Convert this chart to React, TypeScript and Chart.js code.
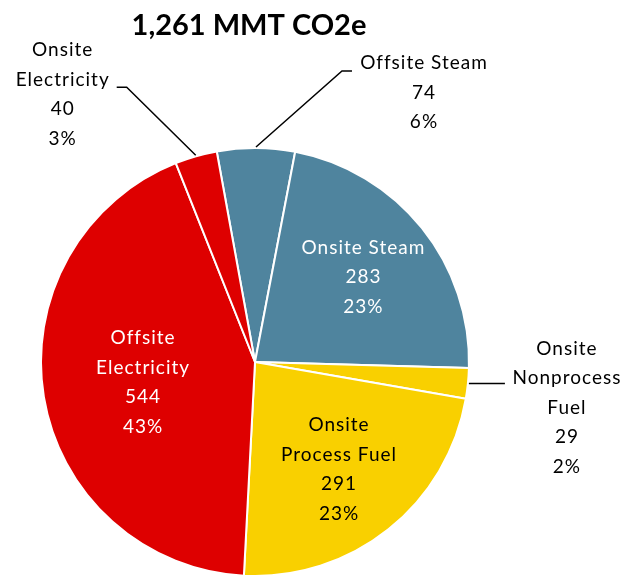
import React, { useEffect, useRef } from "react";
import { Chart, registerables } from "chart.js";

Chart.register(...registerables);

const titleText = "1,261 MMT CO2e";
const categories = [
  "Offsite Steam",
  "Onsite Steam",
  "Onsite Nonprocess Fuel",
  "Onsite Process Fuel",
  "Offsite Electricity",
  "Onsite Electricity",
];
const values = [74, 283, 29, 291, 544, 40];
const percentLabels = ["6%", "23%", "2%", "23%", "43%", "3%"];
const nameLines = [
  ["Offsite Steam"],
  ["Onsite Steam"],
  ["Onsite", "Nonprocess", "Fuel"],
  ["Onsite", "Process Fuel"],
  ["Offsite", "Electricity"],
  ["Onsite", "Electricity"],
];
const colors = ["#4F849E", "#4F849E", "#F9D000", "#F9D000", "#DE0000", "#DE0000"];

const FONT = "Lato, 'Open Sans', sans-serif";
const LINE_H = 29.5;

type Inside = { kind: "in"; f: number; color: string };
type Outside = { kind: "out"; v: [number, number]; h: number; tdx: number; tdy: number; color: string };
const placement: (Inside | Outside)[] = [
  { kind: "out", v: [86, -76], h: 10, tdx: 72, tdy: -8, color: "#000" },
  { kind: "in", f: 0.65, color: "#fff" },
  { kind: "out", v: [0, 0], h: 36, tdx: 62, tdy: -35, color: "#000" },
  { kind: "in", f: 0.63, color: "#000" },
  { kind: "in", f: 0.53, color: "#fff" },
  { kind: "out", v: [-69, -68], h: -10, tdx: -54, tdy: -37, color: "#000" },
];

const labelPlugin = {
  id: "pieLabels",
  afterDatasetsDraw(chart: any) {
    const ctx = chart.ctx;
    const meta = chart.getDatasetMeta(0);
    ctx.save();
    ctx.fillStyle = "#000";
    ctx.font = `bold 29px ${FONT}`;
    ctx.textAlign = "center";
    ctx.textBaseline = "middle";
    ctx.fillText(titleText, 249, 26);

    ctx.font = `19px ${FONT}`;
    try {
      (ctx as any).letterSpacing = "1px";
    } catch (e) {}
    meta.data.forEach((arc: any, i: number) => {
      const { x, y, startAngle, endAngle, outerRadius } = arc.getProps(
        ["x", "y", "startAngle", "endAngle", "outerRadius"],
        true
      );
      const mid = (startAngle + endAngle) / 2;
      const lines = [...nameLines[i], String(values[i]), percentLabels[i]];
      const p = placement[i];
      ctx.fillStyle = p.color;
      ctx.textAlign = "center";
      ctx.textBaseline = "middle";
      if (p.kind === "in") {
        const cx = x + Math.cos(mid) * outerRadius * p.f;
        const cy = y + Math.sin(mid) * outerRadius * p.f + 2;
        const top = cy - ((lines.length - 1) * LINE_H) / 2;
        lines.forEach((t, k) => ctx.fillText(t, cx, top + k * LINE_H));
      } else {
        const x0 = x + Math.cos(mid) * (outerRadius + 1);
        const y0 = y + Math.sin(mid) * (outerRadius + 1);
        const x1 = x0 + p.v[0];
        const y1 = y0 + p.v[1];
        const x2 = x1 + p.h;
        ctx.strokeStyle = "#000";
        ctx.lineWidth = 1.5;
        ctx.beginPath();
        ctx.moveTo(x0, y0);
        ctx.lineTo(x1, y1);
        ctx.lineTo(x2, y1);
        ctx.stroke();
        const cx = x2 + p.tdx;
        const top = y1 + p.tdy;
        lines.forEach((t, k) => ctx.fillText(t, cx, top + k * LINE_H));
      }
    });
    ctx.restore();
  },
};

export default function App() {
  const ref = useRef<HTMLCanvasElement | null>(null);
  useEffect(() => {
    if (!ref.current) return;
    const chart = new Chart(ref.current, {
      type: "pie",
      data: {
        labels: categories,
        datasets: [
          {
            data: values,
            backgroundColor: colors,
            borderColor: "#ffffff",
            borderWidth: 2,
          },
        ],
      },
      options: {
        responsive: false,
        animation: false,
        rotation: -10.3,
        layout: { padding: { left: 40, top: 147, right: 153, bottom: 23 } },
        plugins: {
          legend: { display: false },
          tooltip: { enabled: false },
          title: { display: false },
        },
      },
      plugins: [labelPlugin],
    });
    return () => chart.destroy();
  }, []);
  return (
    <div
      style={{
        position: "absolute",
        left: 0,
        top: 0,
        width: 623,
        height: 575,
        overflow: "hidden",
        background: "#fff",
      }}
    >
      <canvas ref={ref} width={623} height={600} style={{ display: "block" }} />
    </div>
  );
}
